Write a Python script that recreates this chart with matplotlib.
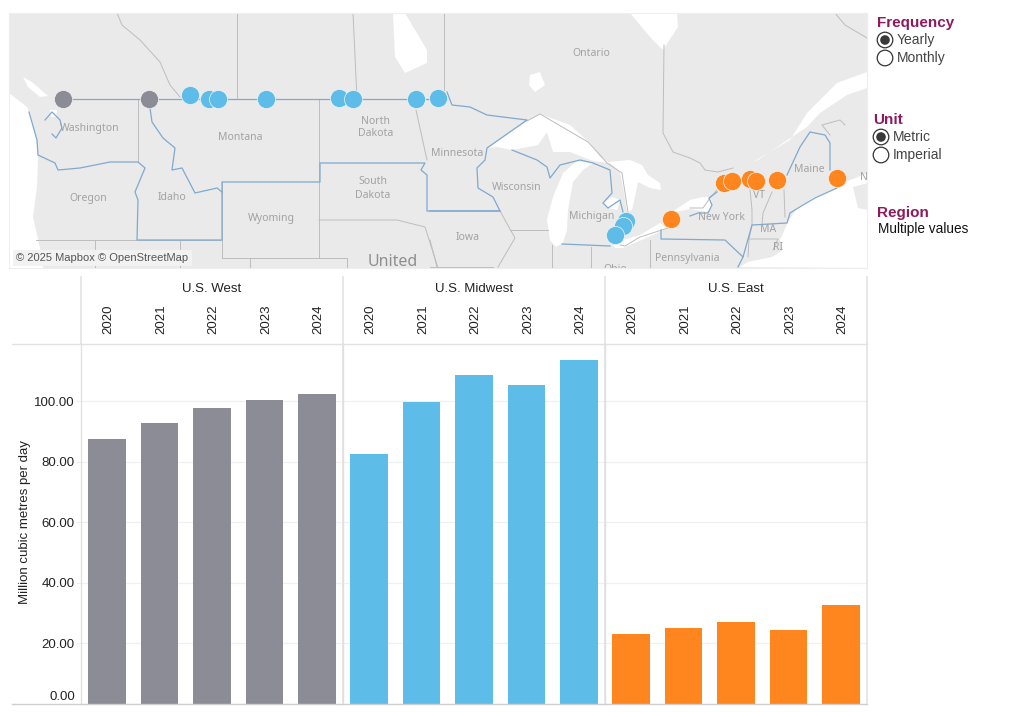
import matplotlib
matplotlib.use("Agg")
import matplotlib.pyplot as plt
from matplotlib.patches import Circle, Polygon

plt.rcParams["font.family"] = ["Liberation Sans", "DejaVu Sans"]

W, H = 1024, 717

# bar data
years = ["2020", "2021", "2022", "2023", "2024"]
regions = ["U.S. West", "U.S. Midwest", "U.S. East"]
west = [87.7, 92.9, 97.7, 100.3, 102.5]
midwest = [82.6, 99.7, 108.8, 105.5, 113.6]
east = [23.0, 25.0, 27.0, 24.3, 32.6]
y_ticks = [0, 20, 40, 60, 80, 100]

GREY = "#8c8c96"
BLUE = "#5dbde8"
ORANGE = "#ff851f"
TITLE = "#8e1a5e"
LAND = "#eaeaea"

# border crossing points, read in map pixels
west_x = [63, 149]
west_y = [98.5, 98.5]
midwest_x = [189.5, 209, 218, 266, 339, 353, 416, 438, 626, 623, 615]
midwest_y = [95, 99, 99, 99, 98, 99, 99, 98, 221, 226, 234.5]
east_x = [671, 724, 732, 750, 756, 777, 837]
east_y = [219, 183, 181, 179, 181, 180, 178]

# water
pacific = [(9, 93), (27, 107), (30, 113), (37, 143), (38, 160), (37, 187), (33, 217), (42, 257), (43, 268), (9, 268)]
puget = [(50, 110), (57, 110), (56, 117), (51, 117)]
strait = [(23, 77), (32, 82), (48, 96), (40, 97), (28, 87)]
superior = [(488, 148), (527, 121), (540, 114), (570, 125), (590, 143), (600, 157), (610, 163), (593, 161), (570, 152),
            (553, 152), (547, 132), (538, 145), (512, 150), (497, 147)]
lake_michigan = [(577, 161), (563, 173), (553, 197), (547, 220), (550, 240), (556, 247), (563, 243), (567, 230), (568, 210), (573, 182), (583, 170), (593, 163)]
huron = [(609, 162), (630, 160), (642, 165), (648, 175), (660, 183), (661, 190), (650, 188), (638, 182), (635, 197), (632, 210), (627, 212), (623, 187), (620, 172)]
saginaw = [(603, 203), (612, 197), (620, 200), (617, 210), (608, 208)]
erie = [(612, 243), (623, 240), (640, 235), (660, 223), (668, 228), (653, 235), (637, 242), (623, 248), (615, 248)]
lake_ontario = [(675, 210), (690, 200), (703, 197), (711, 197), (712, 207), (707, 212), (690, 209), (676, 212)]
st_lawrence = [(753, 162), (790, 140), (807, 113), (837, 83), (867, 72), (867, 88), (847, 95), (820, 113), (807, 127), (783, 143), (758, 160)]
atlantic = [(868, 173), (850, 180), (837, 188), (813, 198), (797, 208), (788, 222), (780, 240), (783, 250), (772, 257), (748, 262), (740, 267), (868, 268)]
james_bay = [(630, 13), (677, 13), (678, 27), (663, 50), (650, 37)]
nipigon = [(530, 75), (540, 72), (545, 85), (535, 92), (529, 85)]
winnipeg = [(393, 13), (405, 13), (427, 50), (427, 63), (405, 73), (395, 57)]
water = [pacific, puget, strait, superior, lake_michigan, huron, saginaw, erie, lake_ontario, st_lawrence, atlantic, james_bay, nipigon, winnipeg]
nova_scotia = [(853, 187), (868, 183), (868, 210), (858, 208)]

# blue region boundaries
blue_lines = [
    [(63, 99), (447, 99)],
    [(29, 112), (37, 140), (38, 155), (55, 163), (58, 170), (80, 168), (110, 162), (138, 162), (145, 168), (135, 192), (138, 200), (137, 240), (222, 240), (222, 182), (320, 182), (320, 163), (425, 163), (421, 170), (427, 175), (427, 211), (500, 211)],
    [(150, 108), (152, 122), (163, 138), (175, 148), (172, 170), (182, 168), (195, 193), (217, 188), (222, 192)],
    [(447, 92), (452, 105), (470, 107), (487, 115), (503, 117), (527, 120), (487, 148), (485, 160), (477, 168), (478, 188), (493, 197), (500, 211), (430, 211)],
    [(512, 150), (537, 160), (547, 167), (550, 178), (560, 165), (580, 160), (593, 163), (610, 170), (612, 193), (603, 203), (608, 208), (620, 200), (623, 212)],
    [(562, 244), (610, 246)],
    [(661, 230), (661, 239), (725, 240), (743, 257), (752, 225), (787, 223), (790, 213), (803, 205), (815, 198), (837, 188)],
    [(690, 216), (698, 213), (708, 213), (712, 205), (709, 198), (717, 192)],
    [(743, 257), (738, 267)],
    [(787, 175), (800, 147), (810, 132), (825, 135), (830, 143), (830, 170)],
    [(45, 120), (52, 112), (60, 120), (62, 128), (56, 138), (52, 134)],
]

# grey admin boundaries
grey_lines = [
    [(117, 13), (122, 25), (140, 40), (160, 62), (170, 85), (180, 97)],
    [(237, 13), (237, 99)],
    [(353, 13), (357, 99)],
    [(444, 13), (444, 90)],
    [(138, 99), (138, 162)],
    [(319, 99), (319, 182)],
    [(416, 110), (427, 160)],
    [(319, 220), (397, 220), (425, 227), (438, 268)],
    [(222, 182), (222, 258), (347, 258), (347, 268)],
    [(319, 182), (319, 258)],
    [(36, 240), (222, 240)],
    [(95, 240), (95, 268)],
    [(180, 240), (180, 268)],
    [(250, 258), (250, 268)],
    [(527, 121), (540, 114), (588, 142), (600, 155), (607, 163), (622, 173), (628, 212)],
    [(620, 245), (625, 246), (640, 237), (668, 228)],
    [(664, 45), (663, 133), (673, 152), (690, 158), (700, 163), (705, 170), (718, 172), (733, 168)],
    [(690, 208), (703, 208), (710, 198), (717, 190)],
    [(750, 190), (752, 210), (752, 225), (749, 239), (748, 257)],
    [(772, 192), (763, 213), (762, 225)],
    [(784, 190), (785, 217)],
    [(749, 239), (778, 239), (773, 250)],
    [(510, 230), (548, 230)],
    [(552, 245), (552, 268)],
    [(591, 247), (591, 268)],
    [(650, 240), (650, 268)],
    [(430, 240), (437, 267)],
    [(500, 211), (515, 238), (498, 267)],
    [(430, 267), (493, 267)],
    [(830, 135), (822, 125), (840, 120), (845, 125)],
    [(835, 13), (845, 25), (867, 38)],
]

# map labels
map_labels = [("Washington", 90, 128), ("Montana", 240, 138), ("North", 376, 121), ("Dakota", 376, 134), ("Oregon", 88, 198),
              ("Idaho", 172, 197), ("Wyoming", 271, 218), ("South", 373, 182), ("Dakota", 373, 195), ("Minnesota", 457, 153),
              ("Wisconsin", 517, 188), ("Michigan", 592, 216), ("Iowa", 468, 237), ("Ontario", 591, 53), ("New York", 722, 218),
              ("Maine", 809, 169), ("VT", 759, 196), ("MA", 768, 230), ("RI", 778, 247), ("Pennsylvania", 687, 258), ("Ohio", 615, 270), ("N", 864, 178)]

fig = plt.figure(figsize=(W / 100, H / 100), dpi=100)


def px_axes(x0, y0, x1, y1, **kw):
    return fig.add_axes([x0 / W, 1 - y1 / H, (x1 - x0) / W, (y1 - y0) / H], **kw)


# map
m = px_axes(9, 13, 867, 268)
m.set_xlim(9, 867)
m.set_ylim(268, 13)
m.set_facecolor(LAND)
m.set_xticks([])
m.set_yticks([])
for s in m.spines.values():
    s.set_color("#eeeeee")
for poly in water:
    m.add_patch(Polygon(poly, closed=True, fc="white", ec="none", zorder=1))
m.add_patch(Polygon(nova_scotia, closed=True, fc=LAND, ec="none", zorder=1.5))
for line in grey_lines:
    m.plot([p[0] for p in line], [p[1] for p in line], color="#bdbdbd", lw=0.7, zorder=2)
for line in blue_lines:
    m.plot([p[0] for p in line], [p[1] for p in line], color="#7fa9cf", lw=0.9, zorder=3)
for txt, x, y in map_labels:
    m.text(x, y, txt, fontsize=7.5, color="#a2a2a2", ha="center", va="center", family="Noto Sans", zorder=4, clip_on=True)
m.text(393, 262, "United", fontsize=11.5, color="#8f8f8f", ha="center", va="center", family="Noto Sans", zorder=4, clip_on=True)
for xs, ys, c in [(west_x, west_y, GREY), (midwest_x, midwest_y, BLUE), (east_x, east_y, ORANGE)]:
    m.scatter(xs, ys, s=170, color=c, edgecolor="#f4f4f4", linewidth=0.5, zorder=5)
m.text(16, 258, "© 2025 Mapbox © OpenStreetMap", fontsize=8, color="#555555", va="center", zorder=6,
       bbox=dict(fc="#f2f2f2", ec="none", pad=2.5))

# bar panels
panel_edges = [81, 343, 605, 867]
series = [west, midwest, east]
colors = [GREY, BLUE, ORANGE]
for i in range(3):
    ax = px_axes(panel_edges[i], 344, panel_edges[i + 1], 703.5)
    ax.set_xlim(0, 5)
    ax.set_ylim(0, 119)
    ax.bar([k + 0.5 for k in range(5)], series[i], width=0.72, color=colors[i], zorder=3)
    ax.set_yticks(y_ticks)
    ax.grid(axis="y", color="#f0f0f0", lw=0.9, zorder=0)
    ax.set_axisbelow(True)
    ax.xaxis.tick_top()
    ax.set_xticks([k + 0.5 for k in range(5)])
    ax.set_xticklabels(years, rotation=90, fontsize=9.5, color="#222222", rotation_mode="anchor", ha="left", va="center_baseline")
    ax.tick_params(axis="x", length=0, pad=7)
    ax.set_title(regions[i], fontsize=9.5, color="#222222", pad=37.5)
    for side in ["top", "right", "bottom"]:
        ax.spines[side].set_visible(False)
    ax.spines["left"].set_color("#e2e2e2")
    ax.spines["left"].set_linewidth(1.0)
    if i == 0:
        ax.set_yticklabels([f"{v:.2f}" for v in y_ticks], fontsize=9.5, color="#222222")
        ax.tick_params(axis="y", length=3.5, color="#eeeeee", width=0.8, pad=1)
        ax.get_yticklabels()[0].set_va("bottom")
        ax.set_ylabel("Million cubic metres per day", fontsize=9.5, color="#222222", labelpad=0)
        ax.yaxis.set_label_coords(-50 / 262, 0.505)
    else:
        ax.tick_params(axis="y", length=0, labelleft=False)

# overlay for header rules and the filter controls
o = px_axes(0, 0, W, H)
o.set_xlim(0, W)
o.set_ylim(H, 0)
o.axis("off")
o.patch.set_alpha(0)
for x in [81, 343, 605, 867]:
    o.plot([x, x], [277, 703 if x != 81 else 344], color="#e0e0e0", lw=1.1)
o.plot([12, 867], [344, 344], color="#e2e2e2", lw=1.0)
o.plot([12, 867], [703.5, 703.5], color="#cfcfcf", lw=1.0)

o.text(877, 23, "Frequency", fontsize=11, fontweight="bold", color=TITLE, va="center")
o.text(873, 120, "Unit", fontsize=11, fontweight="bold", color=TITLE, va="center")
o.text(877, 213.5, "Region", fontsize=11, fontweight="bold", color=TITLE, va="center")
o.text(878.5, 229, "Multiple values", fontsize=9.8, color="#111111", va="center")

radio_items = [("Yearly", 885, 40, True), ("Monthly", 885, 58, False), ("Metric", 881, 137, True), ("Imperial", 881, 155, False)]
for txt, x, y, on in radio_items:
    o.add_patch(Circle((x, y), 7.8, fc="white", ec="#333333", lw=0.9))
    if on:
        o.add_patch(Circle((x, y), 4.8, fc="#3a3a3a", ec="none"))
    o.text(x + 12, y, txt, fontsize=10, color="#444444", va="center")

fig.savefig("out.png", dpi=100)
